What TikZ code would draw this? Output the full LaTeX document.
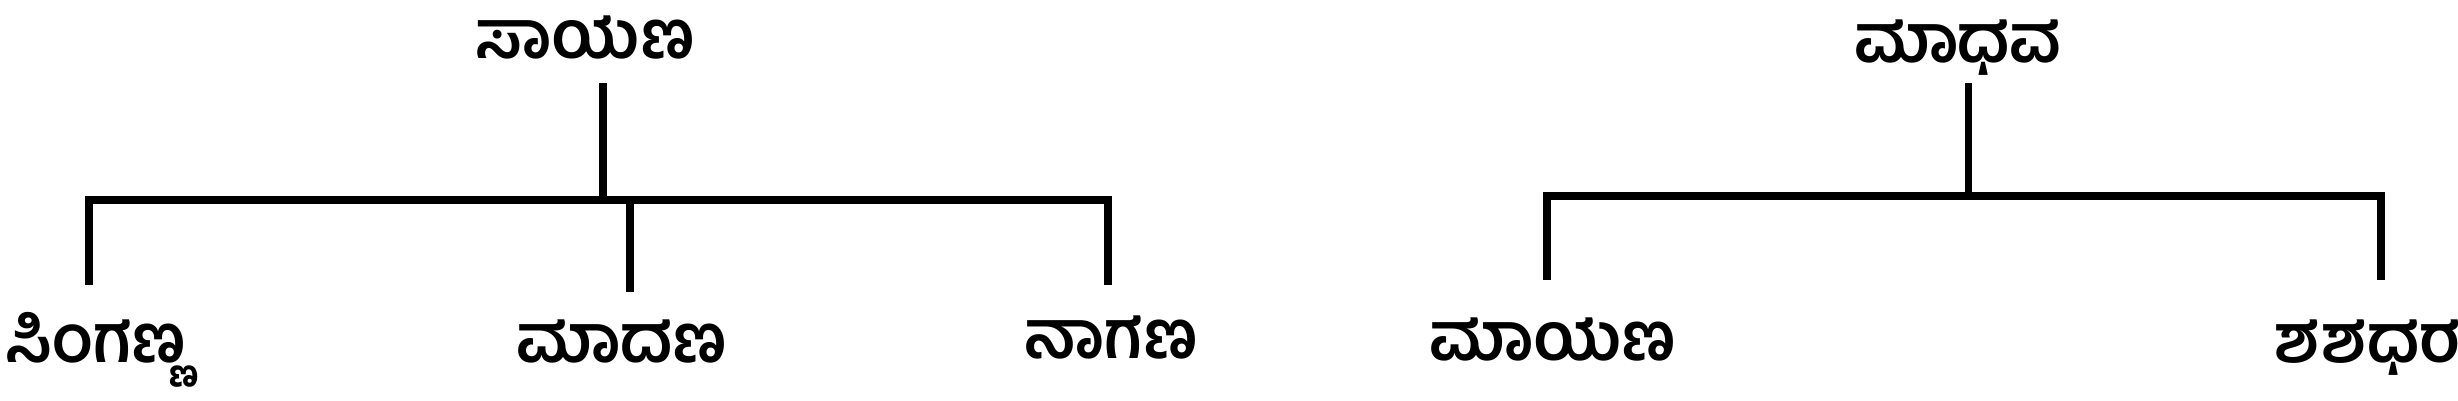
\documentclass[tikz,border=0pt]{standalone}
\usepackage{fontspec}
\usepackage{tikz}
\usetikzlibrary{positioning}
\newfontfamily\kanfont[Script=Kannada]{Hind Mysuru}
\tikzset{
    person/.style={font=\kanfont\bfseries\fontsize{19}{22}\selectfont, inner sep=0pt, anchor=base},
    branch/.style={draw=black, line width=2pt},
    bar/.style={draw=black, line width=2.2pt},
}
\begin{document}
\begin{tikzpicture}[x=0.01cm, y=-0.01cm]
	\useasboundingbox (0,0) rectangle (2458,400);
	% left family
	\node[person] (sayana) at (585,58) {ಸಾಯಣ};
	\node[person] (singanna) at (96,362) {ಸಿಂಗಣ್ಣ};
	\node[person] (madana) at (622,362) {ಮಾದಣ};
	\node[person] (nagana) at (1111,358) {ನಾಗಣ};
	\coordinate (sayanaTop) at (603,83);
	\coordinate (sayanaJoin) at (603,200);
	\coordinate (singannaEnd) at (89,285);
	\coordinate (madanaEnd) at (630,292);
	\coordinate (naganaEnd) at (1108,285);
	\draw[branch] (sayanaTop)--(sayanaJoin);
	\draw[bar] (singannaEnd)--(singannaEnd |- sayanaJoin)--(naganaEnd |- sayanaJoin)--(naganaEnd);
	\draw[branch] (madanaEnd |- sayanaJoin)--(madanaEnd);
	% right family
	\node[person] (madhava) at (1958,62) {ಮಾಧವ};
	\node[person] (mayana) at (1553,360) {ಮಾಯಣ};
	\node[person] (shashadhara) at (2368,362) {ಶಶಧರ};
	\coordinate (madhavaTop) at (1968,83);
	\coordinate (madhavaJoin) at (1968,196);
	\coordinate (mayanaEnd) at (1547,280);
	\coordinate (shashadharaEnd) at (2381,280);
	\draw[branch] (madhavaTop)--(madhavaJoin);
	\draw[bar] (mayanaEnd)--(mayanaEnd |- madhavaJoin)--(shashadharaEnd |- madhavaJoin)--(shashadharaEnd);
\end{tikzpicture}
\end{document}
